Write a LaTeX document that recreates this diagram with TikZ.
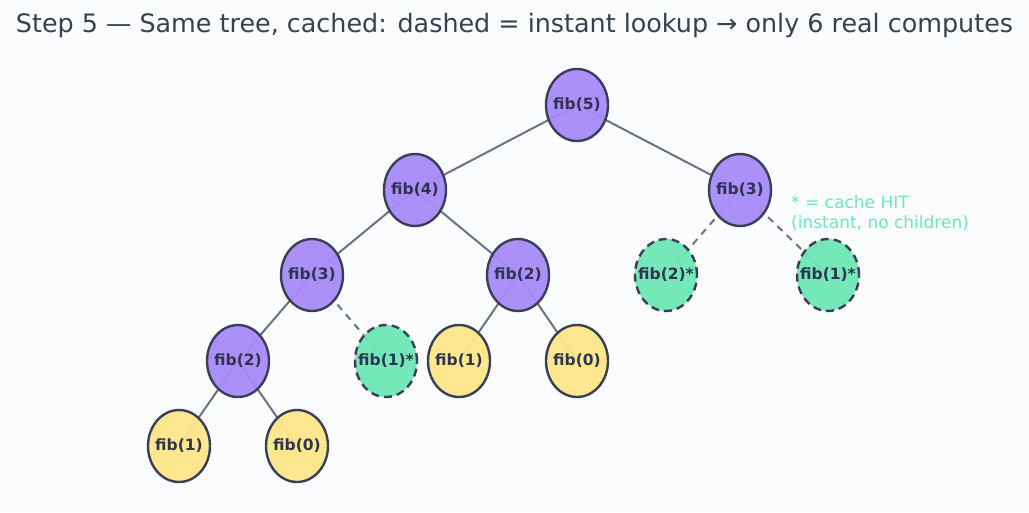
\documentclass[tikz,border=0pt]{standalone}
\usepackage{fontspec}
\setmainfont{DejaVu Sans}
\usetikzlibrary{shapes.geometric}
\definecolor{bg}{HTML}{FBFCFE}
\definecolor{vio}{HTML}{A78BFA}
\definecolor{grn}{HTML}{6EE7B7}
\definecolor{ylw}{HTML}{FDE68A}
\definecolor{bord}{HTML}{3A3F58}
\definecolor{edge}{HTML}{6B7280}
\definecolor{ttl}{HTML}{374151}
\definecolor{ntxt}{HTML}{2E3350}
\newcommand{\zw}[1]{\makebox[0pt][c]{#1}}
\tikzset{
  fibnode/.style={ellipse, draw=bord, line width=2.4pt, minimum width=62pt, minimum height=72pt, inner sep=0pt, text=ntxt, font=\fontsize{15.5}{18}\selectfont\bfseries, fill opacity=0.95, text opacity=1},
  comp/.style={fibnode, fill=vio},
  leaf/.style={fibnode, fill=ylw},
  hit/.style={fibnode, fill=grn, dash pattern=on 8pt off 5pt},
  conn/.style={draw=edge, line width=2pt},
  hitconn/.style={conn, dash pattern=on 7pt off 6pt}
}
\begin{document}
\begin{tikzpicture}[x=1pt,y=-1pt]
\fill[bg] (0,0) rectangle (1029,512);
\useasboundingbox (0,0) rectangle (1029,512);
\node[text=ttl, font=\fontsize{25.4}{30}\selectfont] (title) at (514.5,25) {Step 5 — Same tree, cached: dashed = instant lookup → only 6 real computes};
\coordinate (c5) at (577,105);
\coordinate (c4) at (415,190);
\coordinate (c3r) at (740,190);
\coordinate (c3l) at (312,275);
\coordinate (c2m) at (518,275);
\coordinate (c2h) at (666,275);
\coordinate (c1h) at (828,275);
\coordinate (c2l) at (238,361);
\coordinate (c1hl) at (386,361);
\coordinate (c1m) at (459,361);
\coordinate (c0m) at (577,361);
\coordinate (c1b) at (179,446);
\coordinate (c0b) at (297,446);
\draw[conn] (c5) -- (c4);
\draw[conn] (c5) -- (c3r);
\draw[conn] (c4) -- (c3l);
\draw[conn] (c4) -- (c2m);
\draw[hitconn] (c3r) -- (c2h);
\draw[hitconn] (c3r) -- (c1h);
\draw[conn] (c3l) -- (c2l);
\draw[hitconn] (c3l) -- (c1hl);
\draw[conn] (c2m) -- (c1m);
\draw[conn] (c2m) -- (c0m);
\draw[conn] (c2l) -- (c1b);
\draw[conn] (c2l) -- (c0b);
\node[comp] (n5) at (c5) {\zw{fib(5)}};
\node[comp] (n4) at (c4) {\zw{fib(4)}};
\node[comp] (n3r) at (c3r) {\zw{fib(3)}};
\node[comp] (n3l) at (c3l) {\zw{fib(3)}};
\node[comp] (n2m) at (c2m) {\zw{fib(2)}};
\node[hit] (n2h) at (c2h) {\zw{fib(2)*}};
\node[hit] (n1h) at (c1h) {\zw{fib(1)*}};
\node[comp] (n2l) at (c2l) {\zw{fib(2)}};
\node[hit] (n1hl) at (c1hl) {\zw{fib(1)*}};
\node[leaf] (n1m) at (c1m) {\zw{fib(1)}};
\node[leaf] (n0m) at (c0m) {\zw{fib(0)}};
\node[leaf] (n1b) at (c1b) {\zw{fib(1)}};
\node[leaf] (n0b) at (c0b) {\zw{fib(0)}};
\node[anchor=west, text=grn, align=left, inner sep=0pt, font=\fontsize{17}{20}\selectfont] (legend) at (791,213) {* = cache HIT\\(instant, no children)};
\end{tikzpicture}
\end{document}
